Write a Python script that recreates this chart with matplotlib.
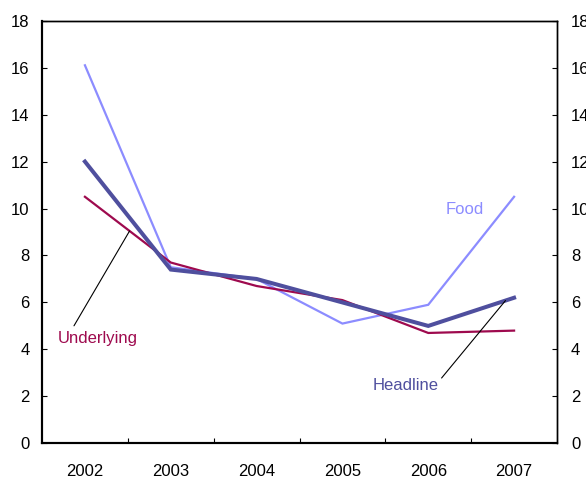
import numpy as np
import matplotlib
matplotlib.use("Agg")
import matplotlib.pyplot as plt
from matplotlib.ticker import FixedLocator, NullFormatter

plt.rcParams['font.family'] = ['Liberation Sans', 'DejaVu Sans']

years = ["2002", "2003", "2004", "2005", "2006", "2007"]
food = [16.1, 7.5, 7.0, 5.1, 5.9, 10.5]
headline = [12.0, 7.4, 7.0, 6.0, 5.0, 6.2]
underlying = [10.5, 7.7, 6.7, 6.1, 4.7, 4.8]
y_ticks = [0, 2, 4, 6, 8, 10, 12, 14, 16, 18]

c_food = "#8C8CFF"
c_head = "#4F4F9E"
c_under = "#9E0A4E"

fig = plt.figure(figsize=(5.86, 4.79), dpi=100)
ax = fig.add_axes([0.0717, 0.0745, 0.8788, 0.8823])

x = np.arange(len(years))
ax.plot(x, food, color=c_food, lw=1.6, solid_joinstyle='miter', zorder=3)
ax.plot(x, underlying, color=c_under, lw=1.6, solid_joinstyle='miter', zorder=4)
ax.plot(x, headline, color=c_head, lw=2.9, solid_joinstyle='miter', zorder=5)

ax.set_xlim(-0.5, len(years) - 0.5)
ax.set_ylim(0, 18)

# category axis: labels at centres, small inward ticks on the boundaries
ax.xaxis.set_major_locator(FixedLocator(x))
ax.set_xticklabels(years)
ax.xaxis.set_minor_locator(FixedLocator(x[:-1] + 0.5))
ax.xaxis.set_minor_formatter(NullFormatter())
ax.tick_params(axis='x', which='major', length=0, pad=15, labelsize=12)
ax.tick_params(axis='x', which='minor', direction='in', length=3.8, width=0.8)

ax.set_yticks(y_ticks)
ax.tick_params(axis='y', direction='in', length=3.8, width=0.8, pad=9, labelsize=12)

ax2 = ax.twinx()
ax2.set_ylim(ax.get_ylim())
ax2.set_yticks(y_ticks)
ax2.tick_params(axis='y', direction='in', length=3.8, width=0.8, pad=10, labelsize=12)

for a in (ax, ax2):
    a.spines['left'].set_linewidth(1.5)
    a.spines['bottom'].set_linewidth(1.5)
    a.spines['top'].set_linewidth(1.0)
    a.spines['right'].set_linewidth(1.0)

# series labels with leader lines
u_x = 0.52
ax.annotate("Underlying", xy=(u_x, np.interp(u_x, x, underlying)),
            xytext=(-0.314, 4.27), color=c_under, fontsize=12,
            ha='left', va='baseline', zorder=6,
            arrowprops=dict(arrowstyle='-', color='black', lw=0.8,
                            shrinkA=0, shrinkB=0, relpos=(0.2, 1.35)))
h_x = 4.9
ax.annotate("Headline", xy=(h_x, np.interp(h_x, x, headline)),
            xytext=(3.348, 2.27), color=c_head, fontsize=12,
            ha='left', va='baseline', zorder=6,
            arrowprops=dict(arrowstyle='-', color='black', lw=0.8,
                            shrinkA=0, shrinkB=0, relpos=(1.05, 1.0)))
ax.text(4.207, 9.77, "Food", color=c_food, fontsize=12, ha='left', va='baseline')

fig.savefig("out.png", dpi=100)
